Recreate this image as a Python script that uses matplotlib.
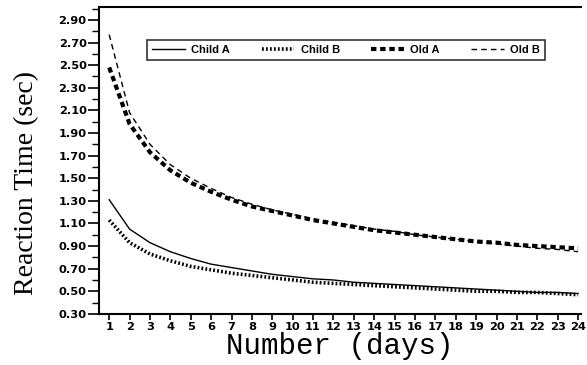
import matplotlib
matplotlib.use("Agg")
import matplotlib.pyplot as plt
from matplotlib.ticker import MultipleLocator, FixedLocator

days = list(range(1, 25))
child_a = [1.31, 1.05, 0.93, 0.85, 0.79, 0.74, 0.71, 0.68, 0.65, 0.63, 0.61, 0.60,
           0.58, 0.57, 0.56, 0.55, 0.54, 0.53, 0.52, 0.51, 0.50, 0.49, 0.49, 0.48]
child_b = [1.13, 0.93, 0.83, 0.77, 0.72, 0.69, 0.66, 0.64, 0.62, 0.60, 0.58, 0.57,
           0.56, 0.55, 0.54, 0.53, 0.52, 0.51, 0.50, 0.50, 0.49, 0.49, 0.48, 0.47]
old_a = [2.48, 1.98, 1.73, 1.57, 1.46, 1.38, 1.31, 1.25, 1.21, 1.17, 1.13, 1.10,
         1.07, 1.04, 1.02, 1.00, 0.98, 0.96, 0.94, 0.93, 0.91, 0.90, 0.89, 0.88]
old_b = [2.77, 2.08, 1.80, 1.62, 1.50, 1.41, 1.33, 1.27, 1.22, 1.18, 1.14, 1.11,
         1.08, 1.05, 1.03, 1.00, 0.98, 0.96, 0.94, 0.92, 0.90, 0.88, 0.87, 0.85]
y_ticks = [0.30, 0.50, 0.70, 0.90, 1.10, 1.30, 1.50, 1.70, 1.90, 2.10, 2.30, 2.50, 2.70, 2.90]
series_names = ["Child A", "Child B", "Old A", "Old B"]

fig = plt.figure(figsize=(5.87, 3.65), dpi=100)
ax = fig.add_axes([0.169, 0.140, 0.821, 0.841])

ax.plot(days, child_a, color="black", lw=1.0, ls="-", label=series_names[0])
ax.plot(days, child_b, color="black", lw=2.6, ls=(0, (0.5, 0.6)), label=series_names[1])
ax.plot(days, old_a, color="black", lw=3.0, ls=(0, (1.3, 0.9)), label=series_names[2])
ax.plot(days, old_b, color="black", lw=1.0, ls=(0, (4, 3)), label=series_names[3])

ax.set_xlim(0.51, 24.15)
ax.set_ylim(0.30, 3.015)
ax.yaxis.set_major_locator(FixedLocator(y_ticks))
ax.set_yticklabels([f"{v:.2f}" for v in y_ticks])
ax.yaxis.set_minor_locator(MultipleLocator(0.1))
ax.xaxis.set_major_locator(FixedLocator(days))
ax.set_xticklabels([str(d) for d in days])

for lab in ax.get_xticklabels() + ax.get_yticklabels():
    lab.set_fontfamily("DejaVu Sans")
    lab.set_fontsize(8.2)
    lab.set_fontweight("bold")

ax.tick_params(axis="y", which="major", direction="out", length=8, width=1.2, pad=1)
ax.tick_params(axis="y", which="minor", direction="out", length=5, width=1.0)
ax.tick_params(axis="x", which="major", direction="out", length=4, width=1.2, pad=2)

for s in ["left", "bottom", "top"]:
    ax.spines[s].set_linewidth(1.5)
ax.spines["right"].set_visible(False)

ax.set_ylabel("Reaction Time (sec)", family="Liberation Serif", fontsize=20)
ax.yaxis.set_label_coords(-0.125, 0.427)
ax.set_xlabel("Number (days)", family="Liberation Mono", fontsize=21, labelpad=0)

leg = ax.legend(loc="upper left", bbox_to_anchor=(0.100, 0.893), ncol=4,
                prop=dict(family="Liberation Sans", size=8, weight="bold"),
                frameon=True, fancybox=False, edgecolor="black",
                handlelength=2.9, columnspacing=2.85, handletextpad=0.6,
                borderpad=0.45, borderaxespad=0)
leg.get_frame().set_linewidth(1.2)

fig.savefig("out.png", dpi=100)
